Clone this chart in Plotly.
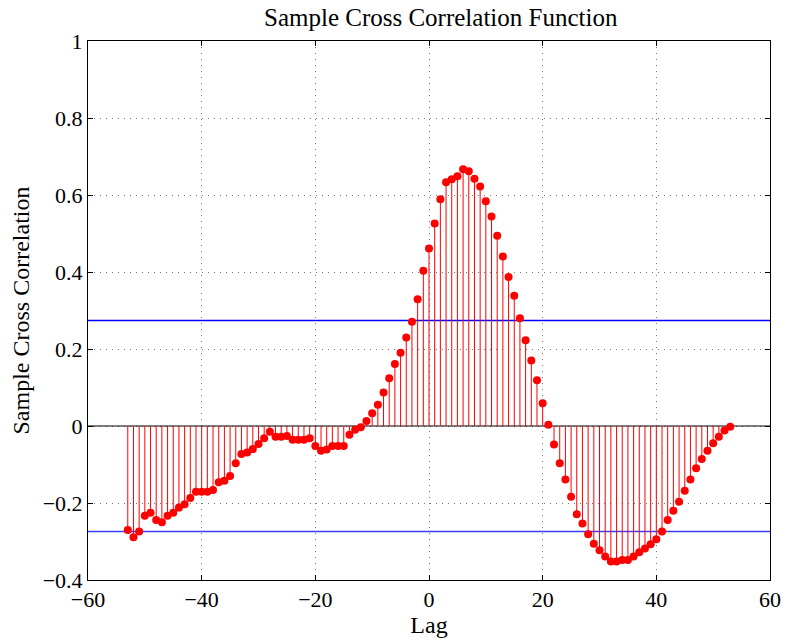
import plotly.graph_objects as go

lags = list(range(-53, 54))
xcf = [
    -0.270, -0.289, -0.274, -0.233, -0.225, -0.244, -0.250, -0.233, -0.225, -0.212,
    -0.203, -0.187, -0.171, -0.171, -0.171, -0.166, -0.146, -0.142, -0.130, -0.097,
    -0.073, -0.069, -0.060, -0.047, -0.032, -0.015, -0.028, -0.028, -0.026, -0.036,
    -0.036, -0.036, -0.032, -0.052, -0.064, -0.061, -0.052, -0.052, -0.052, -0.023,
    -0.010, -0.003, 0.013, 0.033, 0.055, 0.087, 0.124, 0.161, 0.190, 0.230,
    0.271, 0.329, 0.403, 0.461, 0.526, 0.589, 0.633, 0.641, 0.649, 0.667,
    0.662, 0.642, 0.622, 0.584, 0.544, 0.494, 0.440, 0.387, 0.338, 0.280,
    0.223, 0.170, 0.119, 0.059, 0.003, -0.048, -0.097, -0.139, -0.184, -0.229,
    -0.253, -0.281, -0.306, -0.323, -0.339, -0.352, -0.352, -0.348, -0.348, -0.339,
    -0.328, -0.318, -0.307, -0.294, -0.274, -0.244, -0.220, -0.197, -0.168, -0.139,
    -0.110, -0.086, -0.064, -0.045, -0.028, -0.012, -0.002,
]
bound = 0.274
x_ticks = [-60, -40, -20, 0, 20, 40, 60]
x_ticktext = ["\u221260", "\u221240", "\u221220", "0", "20", "40", "60"]
y_ticks = [-0.4, -0.2, 0, 0.2, 0.4, 0.6, 0.8, 1]
y_ticktext = ["\u22120.4", "\u22120.2", "0", "0.2", "0.4", "0.6", "0.8", "1"]

FONT = "Liberation Serif"

stem_x, stem_y = [], []
for l, v in zip(lags, xcf):
    stem_x += [l, l, None]
    stem_y += [0, v, None]

fig = go.Figure()
fig.add_trace(go.Scatter(x=[-60, 60], y=[0, 0], mode="lines",
                         line=dict(color="black", width=1.2), hoverinfo="skip"))
fig.add_trace(go.Scatter(x=[-60, 60], y=[bound, bound], mode="lines",
                         line=dict(color="#0000ff", width=1.5), hoverinfo="skip"))
fig.add_trace(go.Scatter(x=[-60, 60], y=[-bound, -bound], mode="lines",
                         line=dict(color="#3c3cff", width=1.5), hoverinfo="skip"))
fig.add_trace(go.Scatter(x=stem_x, y=stem_y, mode="lines",
                         line=dict(color="#ff0000", width=1), hoverinfo="skip"))
fig.add_trace(go.Scatter(x=lags, y=xcf, mode="markers",
                         marker=dict(color="#ff0000", size=8, line=dict(width=0))))

axis_common = dict(
    showgrid=True, gridcolor="#7a7a7a", griddash="1px,5px", gridwidth=1,
    showline=True, linecolor="black", linewidth=1, mirror="ticks",
    ticks="inside", ticklen=5, tickcolor="black", zeroline=False,
    automargin=False,
    tickfont=dict(family=FONT, size=22, color="black"),
)

fig.update_layout(
    width=787, height=638,
    margin=dict(l=88, r=17, t=41, b=58, autoexpand=False),
    plot_bgcolor="white", paper_bgcolor="white",
    showlegend=False,
    title=dict(text="Sample Cross Correlation Function", x=0.56, xanchor="center",
               y=0.973, yanchor="middle",
               font=dict(family=FONT, size=25, color="black")),
    xaxis=dict(range=[-60, 60], tickvals=x_ticks, ticktext=x_ticktext,
               title=dict(text="Lag", font=dict(family=FONT, size=24, color="black"),
                          standoff=0),
               **axis_common),
    yaxis=dict(range=[-0.4, 1], tickvals=y_ticks, ticktext=y_ticktext,
               title=dict(text="Sample Cross Correlation",
                          font=dict(family=FONT, size=24, color="black"), standoff=6),
               **axis_common),
)

fig.write_html("out.html")
